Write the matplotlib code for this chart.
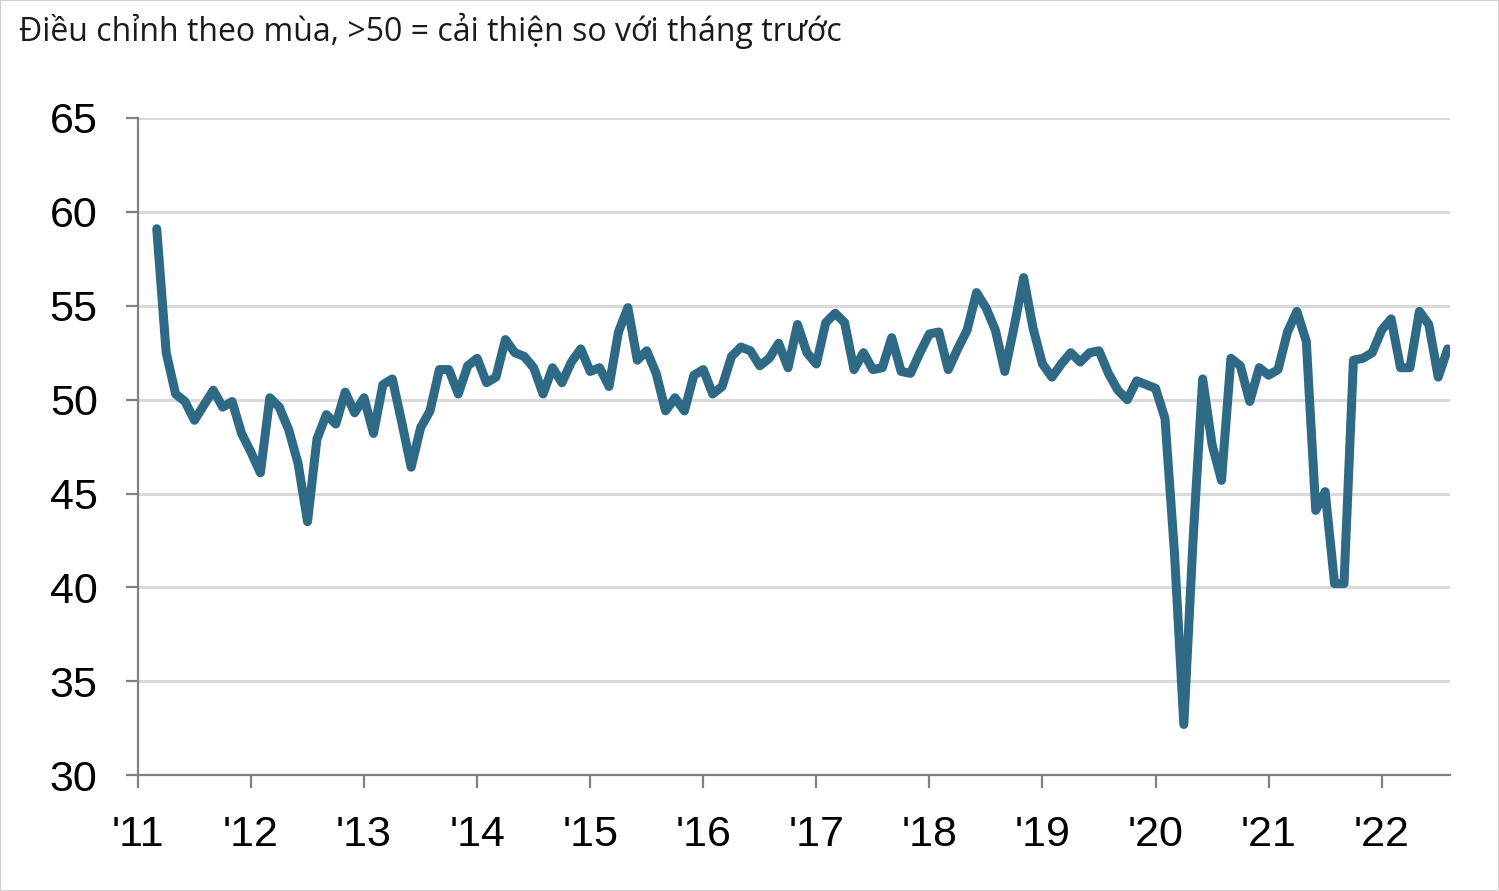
import matplotlib
matplotlib.use("Agg")
import matplotlib.pyplot as plt
import numpy as np

# Vietnam PMI, monthly, Mar 2011 - Aug 2022
pmi_2011 = [59.1, 52.5, 50.3, 49.9, 48.9, 49.7, 50.5, 49.6, 49.9, 48.2]
pmi_2012 = [47.2, 46.1, 50.1, 49.6, 48.4, 46.6, 43.5, 47.9, 49.2, 48.7, 50.4, 49.3]
pmi_2013 = [50.1, 48.2, 50.8, 51.1, 48.8, 46.4, 48.5, 49.4, 51.6, 51.6, 50.3, 51.8]
pmi_2014 = [52.2, 50.9, 51.2, 53.2, 52.5, 52.3, 51.7, 50.3, 51.7, 50.9, 52.0, 52.7]
pmi_2015 = [51.5, 51.7, 50.7, 53.6, 54.9, 52.1, 52.6, 51.4, 49.4, 50.1, 49.4, 51.3]
pmi_2016 = [51.6, 50.3, 50.7, 52.3, 52.8, 52.6, 51.8, 52.2, 53.0, 51.7, 54.0, 52.5]
pmi_2017 = [51.9, 54.1, 54.6, 54.1, 51.6, 52.5, 51.6, 51.7, 53.3, 51.5, 51.4, 52.5]
pmi_2018 = [53.5, 53.6, 51.6, 52.7, 53.7, 55.7, 54.9, 53.7, 51.5, 53.9, 56.5, 53.8]
pmi_2019 = [51.9, 51.2, 51.9, 52.5, 52.0, 52.5, 52.6, 51.4, 50.5, 50.0, 51.0, 50.8]
pmi_2020 = [50.6, 49.0, 41.9, 32.7, 42.7, 51.1, 47.6, 45.7, 52.2, 51.8, 49.9, 51.7]
pmi_2021 = [51.3, 51.6, 53.6, 54.7, 53.1, 44.1, 45.1, 40.2, 40.2, 52.1, 52.2, 52.5]
pmi_2022 = [53.7, 54.3, 51.7, 51.7, 54.7, 54.0, 51.2, 52.7]

pmi = (pmi_2011 + pmi_2012 + pmi_2013 + pmi_2014 + pmi_2015 + pmi_2016
       + pmi_2017 + pmi_2018 + pmi_2019 + pmi_2020 + pmi_2021 + pmi_2022)
year_labels = ["'11", "'12", "'13", "'14", "'15", "'16", "'17", "'18", "'19", "'20", "'21", "'22"]
y_ticks = [30, 35, 40, 45, 50, 55, 60, 65]
subtitle = "Điều chỉnh theo mùa, >50 = cải thiện so với tháng trước"

# months counted from Jan 2011, series starts in March
x = np.arange(len(pmi)) + 2

fig = plt.figure(figsize=(14.99, 8.91), dpi=100)
ax = fig.add_axes([0.092, 0.130, 0.875, 0.7376])

ax.plot(x, pmi, color="#2e6a85", lw=6.5, solid_joinstyle="round",
        solid_capstyle="round", zorder=3)

ax.set_xlim(0, 139.2)
ax.set_ylim(30, 65)
ax.set_yticks(y_ticks)
ax.set_xticks(np.arange(len(year_labels)) * 12)
ax.set_xticklabels(year_labels)

for v in y_ticks[1:]:
    ax.axhline(v, color="#d9d9d9", lw=2.2, zorder=1)

for s in ["top", "right"]:
    ax.spines[s].set_visible(False)
for s in ["left", "bottom"]:
    ax.spines[s].set_color("#808080")
    ax.spines[s].set_linewidth(1.6)

ax.tick_params(axis="both", colors="#808080", width=1.6, length=9,
               labelsize=31, labelcolor="black", pad=20)
for lab in ax.get_xticklabels() + ax.get_yticklabels():
    lab.set_fontfamily("Liberation Sans")

fig.text(0.013, 0.986, subtitle, ha="left", va="top", fontsize=23,
         family="Open Sans", color="#1a1a1a")

# thin frame around the picture
fig.patches.append(plt.Rectangle((0, 0), 1, 1, transform=fig.transFigure,
                                 fill=False, edgecolor="#d0d0d0", lw=1.5))

fig.savefig("out.png", dpi=100, facecolor="white")
